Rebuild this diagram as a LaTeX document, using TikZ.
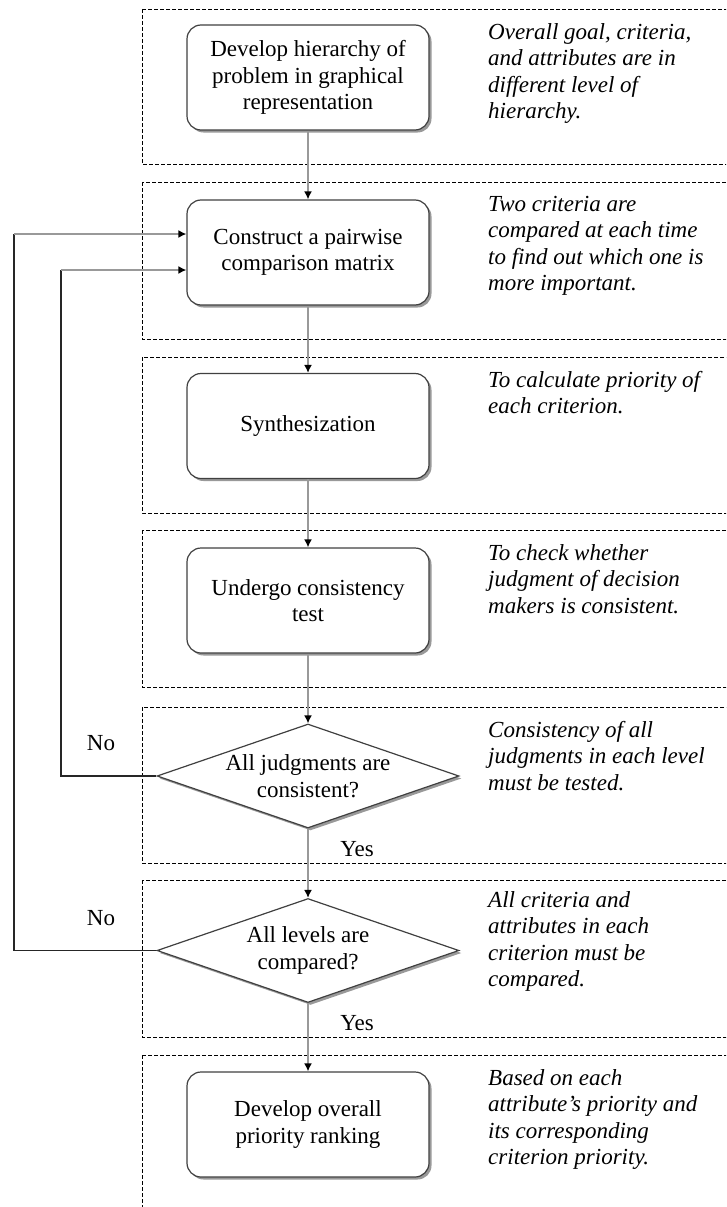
\documentclass[tikz,border=0pt]{standalone}
\usepackage{fontspec}
\setmainfont{Liberation Serif}
\usetikzlibrary{shapes.geometric,arrows.meta,shadows}
\begin{document}
\begin{tikzpicture}[x=1pt,y=-1pt,
  every node/.style={font=\fontsize{23}{26.5}\selectfont},
  zone/.style={draw=black, line width=0.9pt, dash pattern=on 4pt off 2pt},
  shade/.style={drop shadow={shadow xshift=2.5pt, shadow yshift=-2.5pt, fill=black!50, opacity=0.8}},
  proc/.style={draw=black!75, line width=1.2pt, fill=white, rounded corners=14pt,
    minimum width=242pt, minimum height=105pt, align=center, inner sep=0pt, shade},
  decision/.style={diamond, draw=black!75, line width=1.2pt, fill=white,
    minimum width=302pt, minimum height=104pt, inner sep=0pt, shade},
  dtext/.style={align=center, inner sep=0pt},
  note/.style={anchor=north west, align=left, inner sep=0pt,
    font=\fontsize{23}{26.5}\selectfont\itshape},
  flow/.style={draw=black!40, line width=1.8pt, -{Latex[length=8pt,width=8pt,color=black]}},
  back/.style={draw=black!85, line width=1.4pt},
  lbl/.style={inner sep=0pt}
]
\useasboundingbox (0,0) rectangle (726,1207);
\clip (0,0) rectangle (726,1207);

% dashed zones
\draw[zone] (142,9) rectangle (760,164);
\draw[zone] (142,182) rectangle (760,339);
\draw[zone] (142,357) rectangle (760,513);
\draw[zone] (142,530) rectangle (760,687);
\draw[zone] (142,707) rectangle (760,863);
\draw[zone] (142,880) rectangle (760,1037);
\draw[zone] (142,1055) rectangle (760,1240);

% process nodes
\node[proc] (n1) at (308,77.5) {Develop hierarchy of\\problem in graphical\\representation};
\node[proc] (n2) at (308,252.5) {Construct a pairwise\\comparison matrix};
\node[proc] (n3) at (308,426) {Synthesization};
\node[proc] (n4) at (308,600.5) {Undergo consistency\\test};
\node[decision] (d1) at (308,776) {};
\node[dtext] (d1t) at (308,776) {All judgments are\\consistent?};
\node[decision] (d2) at (308,950.5) {};
\node[dtext] (d2t) at (308,950.5) {All levels are\\compared?};
\node[proc] (n7) at (308,1124.5) {Develop overall\\priority ranking};

% notes
\node[note] (a1) at (488,23) {Overall goal, criteria,\\and attributes are in\\different level of\\hierarchy.};
\node[note] (a2) at (488,196) {Two criteria are\\compared at each time\\to find out which one is\\more important.};
\node[note] (a3) at (488,371) {To calculate priority of\\each criterion.};
\node[note] (a4) at (488,544) {To check whether\\judgment of decision\\makers is consistent.};
\node[note] (a5) at (488,721) {Consistency of all\\judgments in each level\\must be tested.};
\node[note] (a6) at (488,891) {All criteria and\\attributes in each\\criterion must be\\compared.};
\node[note] (a7) at (488,1069) {Based on each\\attribute's priority and\\its corresponding\\criterion priority.};

% main flow
\draw[flow] (n1) -- (n2);
\draw[flow] (n2) -- (n3);
\draw[flow] (n3) -- (n4);
\draw[flow] (n4) -- (d1);
\draw[flow] (d1) -- (d2);
\draw[flow] (d2) -- (n7);

% feedback loops
\coordinate (c1a) at (61,776);
\coordinate (c1b) at (61,270);
\coordinate (c2a) at (14,950.5);
\coordinate (c2b) at (14,234);
\draw[back] (d1.west) -- (c1a) -- (c1b);
\draw[flow] (c1b) -- (n2.west |- c1b);
\draw[back] (d2.west) -- (c2a) -- (c2b);
\draw[flow] (c2b) -- (n2.west |- c2b);

% labels
\node[lbl] (no1) at (101,743) {No};
\node[lbl] (no2) at (101,918) {No};
\node[lbl] (yes1) at (357,849) {Yes};
\node[lbl] (yes2) at (357,1023) {Yes};
\end{tikzpicture}
\end{document}
